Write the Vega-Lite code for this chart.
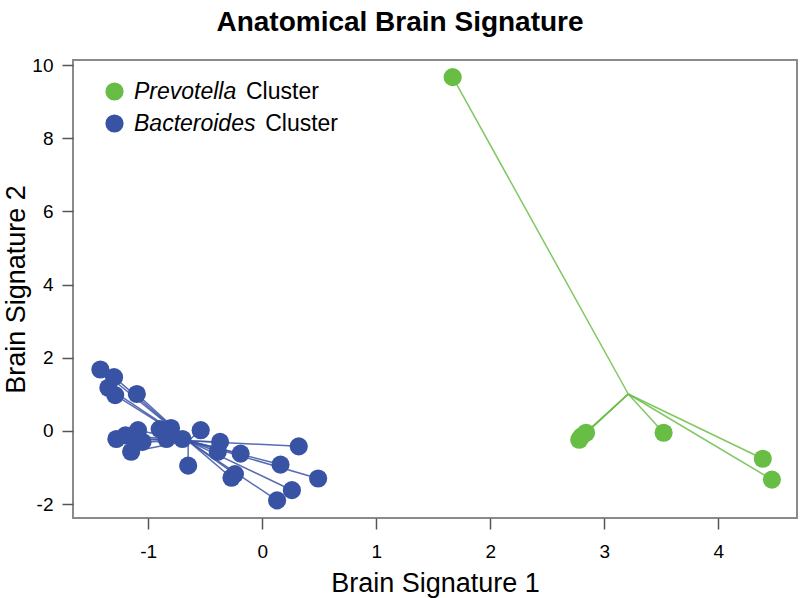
{
  "$schema": "https://vega.github.io/schema/vega-lite/v6.json",
  "width": 724,
  "height": 458,
  "autosize": "none",
  "padding": {"left": 73, "top": 60, "right": 3, "bottom": 80},
  "background": "white",
  "title": {
    "text": "Anatomical Brain Signature",
    "font": "Liberation Sans",
    "fontWeight": "bold",
    "fontSize": 28,
    "color": "black",
    "anchor": "middle",
    "frame": "group",
    "dx": -35,
    "baseline": "alphabetic",
    "offset": -3
  },
  "config": {
    "view": {"stroke": "#8a8a8a", "strokeWidth": 2},
    "font": "Liberation Sans"
  },
  "data": {
    "values": [
      {"cluster": "Prevotella", "x": 1.67, "y": 9.67, "cx": 3.21, "cy": 1.01},
      {"cluster": "Prevotella", "x": 2.78, "y": -0.24, "cx": 3.21, "cy": 1.01},
      {"cluster": "Prevotella", "x": 2.8, "y": -0.15, "cx": 3.21, "cy": 1.01},
      {"cluster": "Prevotella", "x": 2.84, "y": -0.05, "cx": 3.21, "cy": 1.01},
      {"cluster": "Prevotella", "x": 3.52, "y": -0.05, "cx": 3.21, "cy": 1.01},
      {"cluster": "Prevotella", "x": 4.39, "y": -0.76, "cx": 3.21, "cy": 1.01},
      {"cluster": "Prevotella", "x": 4.47, "y": -1.33, "cx": 3.21, "cy": 1.01},
      {"cluster": "Bacteroides", "x": -1.42, "y": 1.68, "cx": -0.65, "cy": -0.27},
      {"cluster": "Bacteroides", "x": -1.3, "y": 1.47, "cx": -0.65, "cy": -0.27},
      {"cluster": "Bacteroides", "x": -1.35, "y": 1.18, "cx": -0.65, "cy": -0.27},
      {"cluster": "Bacteroides", "x": -1.29, "y": 0.98, "cx": -0.65, "cy": -0.27},
      {"cluster": "Bacteroides", "x": -1.1, "y": 1.01, "cx": -0.65, "cy": -0.27},
      {"cluster": "Bacteroides", "x": -1.28, "y": -0.22, "cx": -0.65, "cy": -0.27},
      {"cluster": "Bacteroides", "x": -1.2, "y": -0.12, "cx": -0.65, "cy": -0.27},
      {"cluster": "Bacteroides", "x": -1.09, "y": 0.02, "cx": -0.65, "cy": -0.27},
      {"cluster": "Bacteroides", "x": -1.15, "y": -0.57, "cx": -0.65, "cy": -0.27},
      {"cluster": "Bacteroides", "x": -1.05, "y": -0.3, "cx": -0.65, "cy": -0.27},
      {"cluster": "Bacteroides", "x": -1.12, "y": -0.2, "cx": -0.65, "cy": -0.27},
      {"cluster": "Bacteroides", "x": -0.9, "y": 0.05, "cx": -0.65, "cy": -0.27},
      {"cluster": "Bacteroides", "x": -0.8, "y": 0.08, "cx": -0.65, "cy": -0.27},
      {"cluster": "Bacteroides", "x": -0.84, "y": -0.22, "cx": -0.65, "cy": -0.27},
      {"cluster": "Bacteroides", "x": -0.7, "y": -0.22, "cx": -0.65, "cy": -0.27},
      {"cluster": "Bacteroides", "x": -0.54, "y": 0.02, "cx": -0.65, "cy": -0.27},
      {"cluster": "Bacteroides", "x": -0.65, "y": -0.95, "cx": -0.65, "cy": -0.27},
      {"cluster": "Bacteroides", "x": -0.37, "y": -0.3, "cx": -0.65, "cy": -0.27},
      {"cluster": "Bacteroides", "x": -0.39, "y": -0.57, "cx": -0.65, "cy": -0.27},
      {"cluster": "Bacteroides", "x": -0.19, "y": -0.62, "cx": -0.65, "cy": -0.27},
      {"cluster": "Bacteroides", "x": 0.32, "y": -0.42, "cx": -0.65, "cy": -0.27},
      {"cluster": "Bacteroides", "x": 0.16, "y": -0.92, "cx": -0.65, "cy": -0.27},
      {"cluster": "Bacteroides", "x": -0.24, "y": -1.18, "cx": -0.65, "cy": -0.27},
      {"cluster": "Bacteroides", "x": -0.27, "y": -1.28, "cx": -0.65, "cy": -0.27},
      {"cluster": "Bacteroides", "x": 0.49, "y": -1.3, "cx": -0.65, "cy": -0.27},
      {"cluster": "Bacteroides", "x": 0.26, "y": -1.62, "cx": -0.65, "cy": -0.27},
      {"cluster": "Bacteroides", "x": 0.13, "y": -1.9, "cx": -0.65, "cy": -0.27}
    ]
  },
  "encoding": {
    "x": {
      "field": "x",
      "type": "quantitative",
      "scale": {"domain": [-1.66, 4.69], "nice": false, "zero": false},
      "axis": {
        "values": [-1, 0, 1, 2, 3, 4],
        "labelExpr": "replace(datum.label, '\u2212', '-')",
        "title": "Brain Signature 1",
        "grid": false,
        "domain": false,
        "tickSize": 11,
        "tickColor": "#555555",
        "tickWidth": 1.5,
        "labelFont": "Liberation Sans",
        "labelFontSize": 19,
        "labelColor": "black",
        "labelPadding": 13,
        "titleFont": "Liberation Sans",
        "titleFontSize": 27,
        "titleFontWeight": "normal",
        "titleColor": "black",
        "titlePadding": 9
      }
    },
    "y": {
      "field": "y",
      "type": "quantitative",
      "scale": {"domain": [-2.38, 10.14], "nice": false, "zero": false},
      "axis": {
        "values": [-2, 0, 2, 4, 6, 8, 10],
        "labelExpr": "replace(datum.label, '\u2212', '-')",
        "title": "Brain Signature 2",
        "grid": false,
        "domain": false,
        "tickSize": 11,
        "tickColor": "#555555",
        "tickWidth": 1.5,
        "labelFont": "Liberation Sans",
        "labelFontSize": 19,
        "labelColor": "black",
        "labelPadding": 9,
        "titleFont": "Liberation Sans",
        "titleFontSize": 27,
        "titleFontWeight": "normal",
        "titleColor": "black",
        "titlePadding": 1
      }
    },
    "color": {
      "field": "cluster",
      "type": "nominal",
      "scale": {"domain": ["Prevotella", "Bacteroides"], "range": ["#68BD45", "#3953A4"]},
      "legend": {
        "title": null,
        "orient": "none",
        "legendX": 30,
        "legendY": 20,
        "padding": 0,
        "symbolType": "circle",
        "symbolSize": 330,
        "symbolOpacity": 1,
        "symbolStrokeWidth": 0,
        "labelFont": "Liberation Sans",
        "labelFontStyle": "italic",
        "labelFontSize": 23,
        "labelColor": "black",
        "labelOffset": 8,
        "rowPadding": 8
      }
    }
  },
  "layer": [
    {
      "mark": {"type": "rule", "strokeWidth": 1.5, "opacity": 0.85}
      ,
      "encoding": {
        "x2": {"field": "cx"},
        "y2": {"field": "cy"}
      }
    },
    {
      "mark": {"type": "point", "filled": true, "size": 330, "opacity": 1},
      "encoding": {}
    },
    {
      "mark": {"type": "point", "filled": true, "opacity": 0},
      "encoding": {
        "shape": {
          "field": "cluster",
          "type": "nominal",
          "scale": {"domain": ["Bacteroides", "Prevotella"], "range": ["circle", "circle"]},
          "legend": {
            "title": null,
            "orient": "none",
            "legendX": 150,
            "legendY": 20,
            "padding": 0,
            "symbolSize": 1,
            "symbolOpacity": 0,
            "symbolFillColor": "transparent",
            "symbolStrokeColor": "transparent",
            "symbolStrokeWidth": 0,
            "labelOffset": 0,
            "labelFont": "Liberation Sans",
            "labelFontStyle": "normal",
            "labelFontSize": 23,
            "labelColor": "black",
            "rowPadding": 8,
            "labelExpr": "datum.index == 0 ? 'Cluster' : '\u200b\u00a0\u00a0\u00a0Cluster'"
          }
        }
      }
    }
  ]
}
